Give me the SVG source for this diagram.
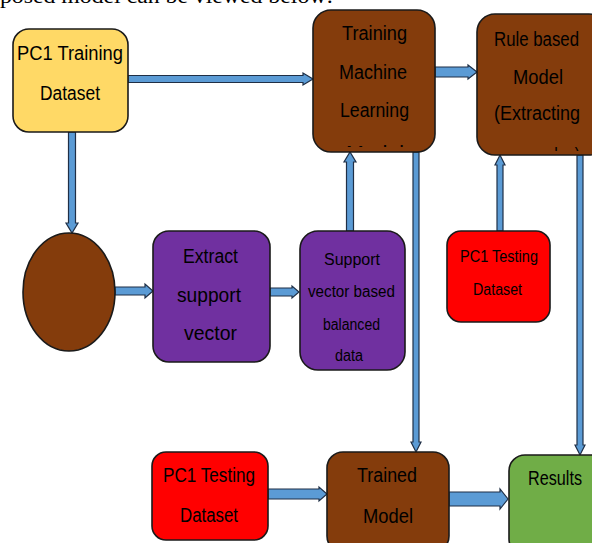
<svg xmlns="http://www.w3.org/2000/svg" width="592" height="543" viewBox="0 0 592 543">
<style>
  .box{stroke:#1a1a1a;stroke-width:1.6}
  .yellow{fill:#FFD966}
  .brown{fill:#843C0C}
  .purple{fill:#7030A0}
  .red{fill:#FF0000}
  .green{fill:#70AD47}
  .t{font-family:"Liberation Sans",Arial,sans-serif;font-size:20px;fill:#000;text-anchor:start}
  .s{font-size:16px}
  .arrow{fill:#5B9BD5;stroke:#1F2F46;stroke-width:1.2;stroke-linejoin:miter}
  .cap{font-family:"Liberation Serif","Times New Roman",serif;font-size:20px;fill:#000}
</style>
<defs>
  <clipPath id="clipML"><rect x="313" y="10" width="122" height="137"/></clipPath>
  <clipPath id="clipRB"><rect x="477" y="14" width="115" height="137"/></clipPath>
</defs>

<text class="cap" x="0" y="3" textLength="333" lengthAdjust="spacingAndGlyphs">posed model can be viewed below:</text>

<g id="connectors">
  <!-- PC1 Training -> Training ML -->
  <path class="arrow" d="M128 75.5 H303 V73 L313 79 L303 85 V82.5 H128 Z"/>
  <!-- PC1 Training -> circle -->
  <path class="arrow" d="M68.5 132 V223 H66 L72 233 L78 223 H75.5 V132 Z"/>
  <!-- circle -> Extract -->
  <path class="arrow" d="M115 287 H145 V284 L153 291 L145 298 V295 H115 Z"/>
  <!-- Extract -> Support -->
  <path class="arrow" d="M270 288 H292 V286 L299 292 L292 298 V296 H270 Z"/>
  <!-- Support -> Training ML -->
  <path class="arrow" d="M346.5 231 V162 H344 L350 152 L356 162 H353.5 V231 Z"/>
  <!-- Training ML -> Rule based -->
  <path class="arrow" d="M435 67 H468 V65 L477 72 L468 79 V77 H435 Z"/>
  <!-- Training ML -> Trained Model -->
  <path class="arrow" d="M413 152 V442 H411 L416 452 L421 442 H419 V152 Z"/>
  <!-- PC1 Testing -> Rule based -->
  <path class="arrow" d="M497 231 V165 H495 L500 155 L505 165 H503 V231 Z"/>
  <!-- Rule based -> Results -->
  <path class="arrow" d="M577 155 V445 H575 L580 455 L585 445 H583 V155 Z"/>
  <!-- PC1 Testing bottom -> Trained Model -->
  <path class="arrow" d="M268 489 H319 V487 L327 494 L319 501 V499 H268 Z"/>
  <!-- Trained Model -> Results -->
  <path class="arrow" d="M449 492 H500 V489 L508 499 L500 509 V506 H449 Z"/>
</g>

<g id="pc1-training">
  <rect class="box yellow" x="13" y="29" width="115" height="103" rx="16"/>
  <text class="t" x="17" y="60" textLength="106" lengthAdjust="spacingAndGlyphs">PC1 Training</text>
  <text class="t" x="40" y="100" textLength="60" lengthAdjust="spacingAndGlyphs">Dataset</text>
</g>

<g id="training-ml">
  <rect class="box brown" x="313" y="10" width="122" height="142" rx="18"/>
  <text class="t" x="342" y="40" textLength="65" lengthAdjust="spacingAndGlyphs">Training</text>
  <text class="t" x="339" y="79" textLength="68" lengthAdjust="spacingAndGlyphs">Machine</text>
  <text class="t" x="340" y="117" textLength="69" lengthAdjust="spacingAndGlyphs">Learning</text>
  <text class="t" x="346" y="160" textLength="58" lengthAdjust="spacingAndGlyphs" clip-path="url(#clipML)">Model</text>
</g>

<g id="rule-based">
  <rect class="box brown" x="477" y="14" width="130" height="141" rx="18"/>
  <text class="t" x="494" y="46" textLength="85" lengthAdjust="spacingAndGlyphs">Rule based</text>
  <text class="t" x="513" y="84" textLength="50" lengthAdjust="spacingAndGlyphs">Model</text>
  <text class="t" x="494" y="120" textLength="86" lengthAdjust="spacingAndGlyphs">(Extracting</text>
  <text class="t" x="540" y="162" textLength="40" lengthAdjust="spacingAndGlyphs" clip-path="url(#clipRB)">rules)</text>
</g>

<g id="circle">
  <ellipse class="box brown" cx="69" cy="292" rx="46" ry="59"/>
</g>

<g id="extract">
  <rect class="box purple" x="153" y="231" width="117" height="131" rx="16"/>
  <text class="t" x="183" y="263" textLength="55" lengthAdjust="spacingAndGlyphs">Extract</text>
  <text class="t" x="177" y="302" textLength="64" lengthAdjust="spacingAndGlyphs">support</text>
  <text class="t" x="184" y="340" textLength="53" lengthAdjust="spacingAndGlyphs">vector</text>
</g>

<g id="support">
  <rect class="box purple" x="300" y="231" width="105" height="139" rx="18"/>
  <text class="t s" x="324" y="265" textLength="56" lengthAdjust="spacingAndGlyphs">Support</text>
  <text class="t s" x="308" y="297" textLength="87" lengthAdjust="spacingAndGlyphs">vector based</text>
  <text class="t s" x="323" y="330" textLength="57" lengthAdjust="spacingAndGlyphs">balanced</text>
  <text class="t s" x="335" y="361" textLength="28" lengthAdjust="spacingAndGlyphs">data</text>
</g>

<g id="pc1-testing-right">
  <rect class="box red" x="447" y="231" width="103" height="91" rx="14"/>
  <text class="t s" x="460" y="262" textLength="78" lengthAdjust="spacingAndGlyphs">PC1 Testing</text>
  <text class="t s" x="473" y="295" textLength="49" lengthAdjust="spacingAndGlyphs">Dataset</text>
</g>

<g id="pc1-testing-bottom">
  <rect class="box red" x="152" y="452" width="116" height="88" rx="14"/>
  <text class="t" x="163" y="482" textLength="92" lengthAdjust="spacingAndGlyphs">PC1 Testing</text>
  <text class="t" x="180" y="522" textLength="58" lengthAdjust="spacingAndGlyphs">Dataset</text>
</g>

<g id="trained-model">
  <rect class="box brown" x="327" y="452" width="122" height="100" rx="16"/>
  <text class="t" x="357" y="482" textLength="60" lengthAdjust="spacingAndGlyphs">Trained</text>
  <text class="t" x="363" y="523" textLength="50" lengthAdjust="spacingAndGlyphs">Model</text>
</g>

<g id="results">
  <rect class="box green" x="509" y="455" width="100" height="100" rx="16"/>
  <text class="t" x="528" y="485" textLength="54" lengthAdjust="spacingAndGlyphs">Results</text>
</g>
</svg>
